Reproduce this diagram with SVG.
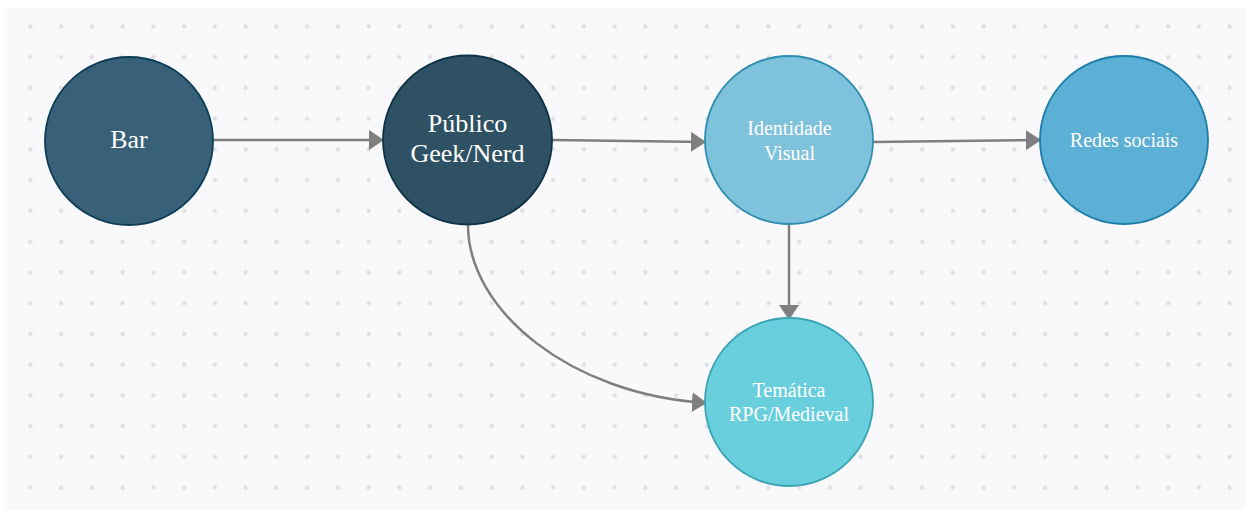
<svg xmlns="http://www.w3.org/2000/svg" width="1250" height="516" viewBox="0 0 1250 516">
  <defs>
    <pattern id="dots" patternUnits="userSpaceOnUse" x="15" y="11" width="30.75" height="30.75">
      <circle cx="15.375" cy="15.375" r="2.2" fill="#e0e0e4"/>
    </pattern>
    <marker id="arrow" markerUnits="userSpaceOnUse" markerWidth="16" markerHeight="20" refX="15" refY="10" orient="auto">
      <path d="M0,0 L15,10 L0,20 Z" fill="#7f7f7f"/>
    </marker>
    <style>
      .edge { fill: none; stroke: #7f7f7f; stroke-width: 2.5; marker-end: url(#arrow); }
      .node circle { stroke-width: 1.8; }
      .lbl { font-family: "Liberation Serif", "Times New Roman", serif; fill: #ffffff; text-anchor: middle; }
      .big { font-size: 26px; }
      .small { font-size: 20px; }
    </style>
  </defs>
  <rect x="0" y="0" width="1250" height="516" fill="#ffffff"/>
  <rect x="5" y="8" width="1240" height="502" fill="#f9f9fb"/>
  <rect x="5" y="8" width="1240" height="502" fill="url(#dots)"/>

  <g id="connectors">
    <path class="edge" d="M213,140 L384,140"/>
    <path class="edge" d="M552,140 L706,142"/>
    <path class="edge" d="M873,142 L1041,140"/>
    <path class="edge" d="M789,225 L789,320"/>
    <path class="edge" d="M468,225 C468,310 570,395 707,403"/>
  </g>

  <g id="node-bar" class="node">
    <circle cx="129" cy="141" r="84" fill="#386179" stroke="#0e3d58"/>
    <text class="lbl big" x="129" y="148">Bar</text>
  </g>
  <g id="node-publico" class="node">
    <circle cx="467.5" cy="140" r="84.5" fill="#2f5164" stroke="#0e3246"/>
    <text class="lbl big" x="467.5" y="132">Público</text>
    <text class="lbl big" x="467.5" y="162">Geek/Nerd</text>
  </g>
  <g id="node-identidade" class="node">
    <circle cx="789" cy="140" r="84" fill="#7fc2dc" stroke="#2e8db0"/>
    <text class="lbl small" x="789.5" y="135">Identidade</text>
    <text class="lbl small" x="789.5" y="160">Visual</text>
  </g>
  <g id="node-redes" class="node">
    <circle cx="1124" cy="140" r="84" fill="#5cafd5" stroke="#1a7daa"/>
    <text class="lbl small" x="1124" y="147">Redes sociais</text>
  </g>
  <g id="node-tematica" class="node">
    <circle cx="789" cy="402" r="84" fill="#6acfdc" stroke="#3ba4b4"/>
    <text class="lbl small" x="789" y="397">Temática</text>
    <text class="lbl small" x="789" y="421">RPG/Medieval</text>
  </g>
</svg>
